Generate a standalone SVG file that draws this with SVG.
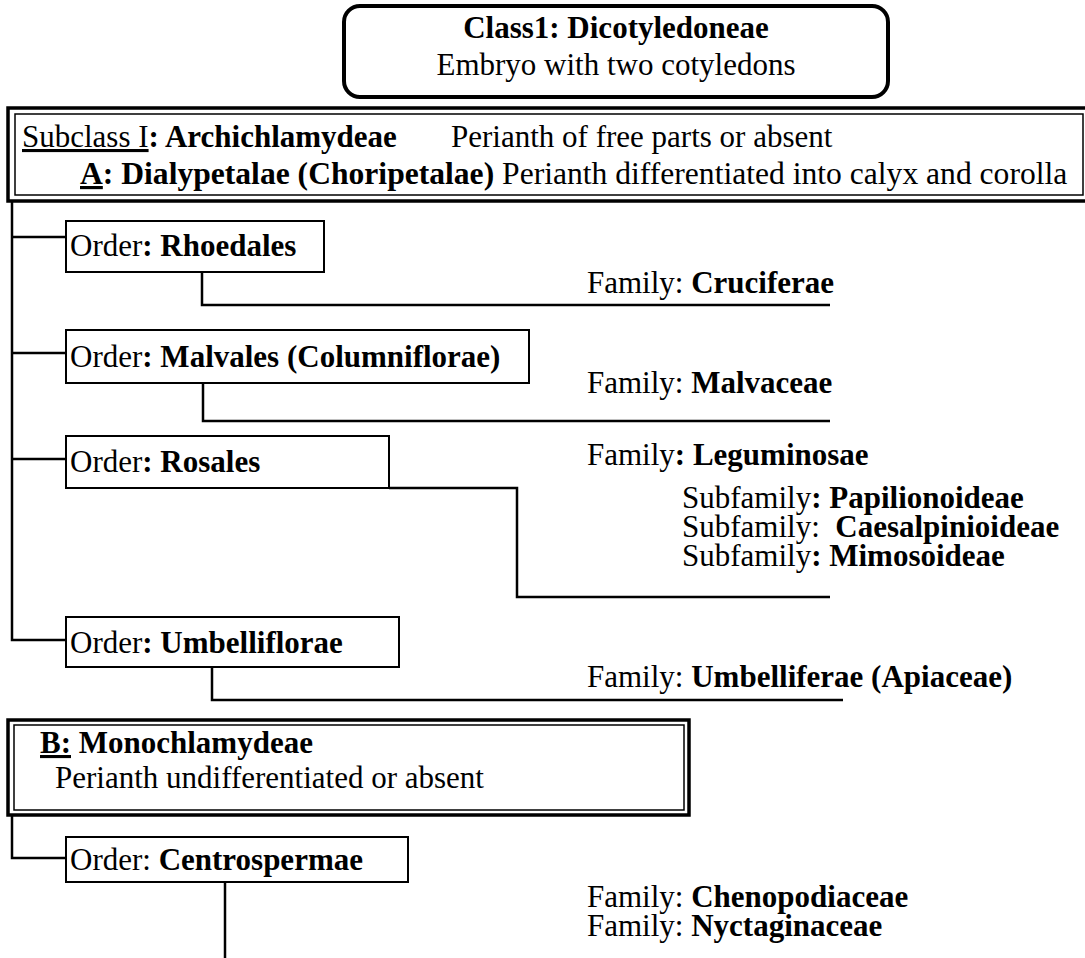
<svg xmlns="http://www.w3.org/2000/svg" width="1085" height="958" viewBox="0 0 1085 958">
<style>
text{font-family:"Liberation Serif","Times New Roman",serif;font-size:31px;fill:#000}
.b{font-weight:bold}
.u{text-decoration:underline}
.box{fill:#fff;stroke:#000;stroke-width:2}
.outer{fill:#fff;stroke:#000;stroke-width:3.5}
.inner{fill:none;stroke:#000;stroke-width:1.5}
.con{fill:none;stroke:#000;stroke-width:2.5}
</style>
<rect width="1085" height="958" fill="#fff"/>
<g id="connectors">
<path class="con" d="M12 201 V640 H66"/>
<path class="con" d="M12 237 H66"/>
<path class="con" d="M12 353 H66"/>
<path class="con" d="M12 459 H66"/>
<path class="con" d="M202 272 V305 H830"/>
<path class="con" d="M203 383 V421 H830"/>
<path class="con" d="M389 488 H517 V597 H830"/>
<path class="con" d="M212 667 V700 H843"/>
<path class="con" d="M12 815 V858 H66"/>
<path class="con" d="M225 882 V958"/>
</g>
<g id="class1">
<rect x="344" y="6" width="544" height="91" rx="16" fill="#fff" stroke="#000" stroke-width="4"/>
<text x="616" y="38" text-anchor="middle" class="b">Class1: Dicotyledoneae</text>
<text x="616" y="75" text-anchor="middle">Embryo with two cotyledons</text>
</g>
<g id="subclass1">
<rect class="outer" x="8" y="108" width="1090" height="93"/>
<rect class="inner" x="15" y="114" width="1068" height="81"/>
<text y="147"><tspan x="22" class="u">Subclass I</tspan><tspan class="b">: Archichlamydeae</tspan><tspan x="451">Perianth of free parts or absent</tspan></text>
<text y="184" style="font-size:31.6px"><tspan x="80" class="b u">A</tspan><tspan class="b">: Dialypetalae (Choripetalae)</tspan> Perianth differentiated into calyx and corolla</text>
</g>
<g id="rhoedales">
<rect class="box" x="66" y="221" width="258" height="51"/>
<text x="70" y="256">Order<tspan class="b">: Rhoedales</tspan></text>
</g>
<g id="cruciferae"><text x="587" y="293">Family: <tspan class="b">Cruciferae</tspan></text></g>
<g id="malvales">
<rect class="box" x="66" y="330" width="463" height="53"/>
<text x="70" y="367">Order<tspan class="b">: Malvales (Columniflorae)</tspan></text>
</g>
<g id="malvaceae"><text x="587" y="393">Family: <tspan class="b">Malvaceae</tspan></text></g>
<g id="rosales">
<rect class="box" x="66" y="436" width="323" height="52"/>
<text x="70" y="472">Order<tspan class="b">: Rosales</tspan></text>
</g>
<g id="leguminosae">
<text x="587" y="465">Family<tspan class="b">: Leguminosae</tspan></text>
<text x="682" y="508">Subfamily<tspan class="b">: Papilionoideae</tspan></text>
<text x="682" y="537" xml:space="preserve">Subfamily:  <tspan class="b">Caesalpinioideae</tspan></text>
<text x="682" y="566">Subfamily<tspan class="b">: Mimosoideae</tspan></text>
</g>
<g id="umbelliflorae">
<rect class="box" x="66" y="617" width="333" height="50"/>
<text x="70" y="653">Order<tspan class="b">: Umbelliflorae</tspan></text>
</g>
<g id="umbelliferae"><text x="587" y="687">Family: <tspan class="b">Umbelliferae (Apiaceae)</tspan></text></g>
<g id="monochlamydeae">
<rect class="outer" x="8" y="720" width="681" height="95"/>
<rect class="inner" x="14" y="725" width="670" height="85"/>
<text x="40" y="753"><tspan class="b u">B:</tspan><tspan class="b"> Monochlamydeae</tspan></text>
<text x="55" y="788">Perianth undifferentiated or absent</text>
</g>
<g id="centrospermae">
<rect class="box" x="66" y="837" width="342" height="45"/>
<text x="70" y="870">Order: <tspan class="b">Centrospermae</tspan></text>
</g>
<g id="families2">
<text x="587" y="907">Family: <tspan class="b">Chenopodiaceae</tspan></text>
<text x="587" y="936">Family: <tspan class="b">Nyctaginaceae</tspan></text>
</g>
</svg>
